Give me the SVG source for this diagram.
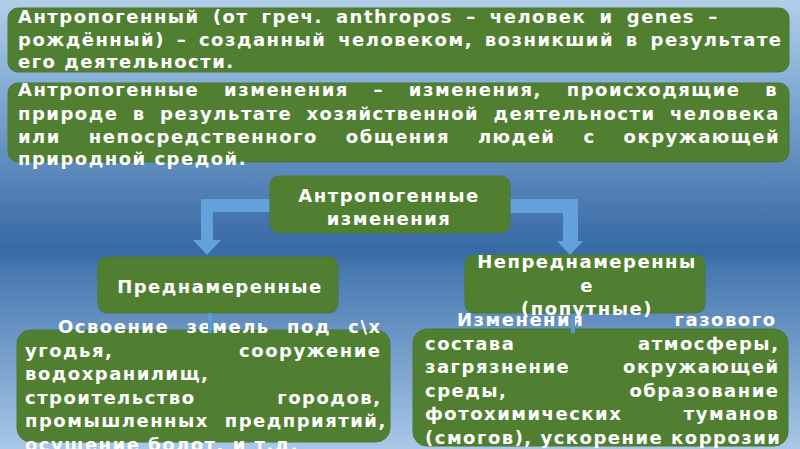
<svg xmlns="http://www.w3.org/2000/svg" width="800" height="449" viewBox="0 0 800 449">
<defs>
<linearGradient id="bg" x1="0" y1="0" x2="0" y2="1">
<stop offset="0" stop-color="#b2cee9"/>
<stop offset="0.22" stop-color="#7ea8d3"/>
<stop offset="0.5" stop-color="#4272ab"/>
<stop offset="0.56" stop-color="#376aa4"/>
<stop offset="0.6" stop-color="#4778b0"/>
<stop offset="1" stop-color="#a9c8e8"/>
</linearGradient>
</defs>
<style>
.box{fill:#507f32;stroke:#4a7830;stroke-width:1}
.t{font-family:"DejaVu Sans","Verdana",sans-serif;font-weight:bold;font-size:18px;letter-spacing:1.5px;fill:#ffffff}
.c{text-anchor:middle}
.e{text-anchor:end}
.arrow{fill:#63a0dc}
.stub{fill:#5b9bd5}
</style>
<rect x="0" y="0" width="800" height="449" fill="url(#bg)"/>

<g id="def1">
<rect class="box" x="8" y="8" width="781" height="64" rx="10"/>
<text class="t" x="18" y="23" word-spacing="5.4">Антропогенный (от греч. anthropos – человек и genes –</text>
<text class="t" x="18" y="45.5" word-spacing="4">рождённый) – созданный человеком, возникший в результате</text>
<text class="t" x="18" y="68">его деятельности.</text>
</g>

<g id="def2">
<rect class="box" x="8" y="83" width="781" height="79" rx="10"/>
<text class="t" x="18" y="96" word-spacing="17">Антропогенные изменения – изменения, происходящие в</text>
<text class="t" x="18" y="119.5" word-spacing="6.6">природе в результате хозяйственной деятельности человека</text>
<text class="t" x="18" y="142.5" word-spacing="20.2">или непосредственного общения людей с окружающей</text>
<text class="t" x="18" y="165">природной средой.</text>
</g>

<g id="connectors">
<polygon class="arrow" points="272,199 201,199 201,240 193,240 207,255 221,240 213,240 213,212 272,212"/>
<polygon class="arrow" points="508,199 578,199 578,241 583,241 570,255 557,241 563,241 563,213 508,213"/>
</g>

<g id="center">
<rect class="box" x="270" y="176" width="240" height="57" rx="9"/>
<text class="t c" x="389" y="202">Антропогенные</text>
<text class="t c" x="389" y="225">изменения</text>
</g>

<g id="intentionalDesc">
<rect class="box" x="17" y="330" width="373" height="112" rx="14"/>
<text class="t" x="58" y="333" word-spacing="9.6">Освоение земель под с\х</text>
<text class="t" x="25" y="357">угодья,</text>
<text class="t e" x="381.5" y="357">сооружение</text>
<text class="t" x="25" y="380">водохранилищ,</text>
<text class="t" x="25" y="404">строительство</text>
<text class="t e" x="381.5" y="404">городов,</text>
<text class="t" x="25" y="427" word-spacing="8">промышленных предприятий,</text>
<text class="t" x="25" y="451">осушение болот, и т.д.</text>
</g>

<g id="unintentionalDesc">
<rect class="box" x="413" y="329" width="375" height="117" rx="14"/>
<text class="t" x="457" y="326">Изменения</text>
<text class="t e" x="776.5" y="326">газового</text>
<text class="t" x="425" y="350">состава</text>
<text class="t e" x="779.5" y="350">атмосферы,</text>
<text class="t" x="425" y="373">загрязнение</text>
<text class="t e" x="779.5" y="373">окружающей</text>
<text class="t" x="425" y="397">среды,</text>
<text class="t e" x="779.5" y="397">образование</text>
<text class="t" x="425" y="420">фотохимических</text>
<text class="t e" x="779.5" y="420">туманов</text>
<text class="t" x="425" y="444">(смогов), ускорение коррозии</text>
</g>

<g id="intentional">
<rect class="box" x="98" y="257" width="240" height="56" rx="9"/>
<text class="t c" x="220" y="293">Преднамеренные</text>
</g>

<g id="unintentional">
<rect class="box" x="465" y="255" width="240" height="58" rx="9"/>
<text class="t c" x="587" y="268">Непреднамеренны</text>
<text class="t c" x="587" y="292">е</text>
<text class="t c" x="587" y="315">(попутные)</text>
</g>

<g id="stubs">
<rect class="stub" x="208" y="313" width="4" height="20"/>
<rect class="stub" x="571" y="314" width="4" height="19"/>
</g>
</svg>
